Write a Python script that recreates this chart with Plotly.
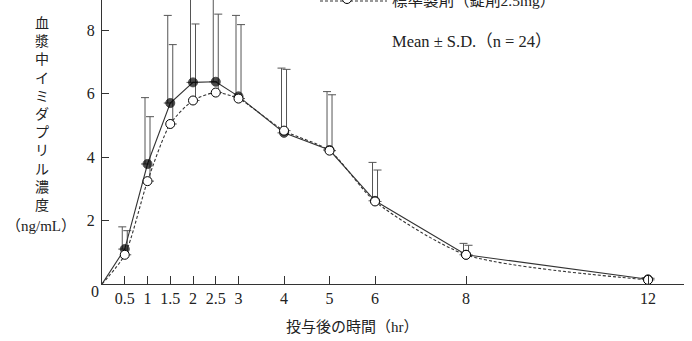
import plotly.graph_objects as go

# ---- data ----
hours = [0, 0.5, 1, 1.5, 2, 2.5, 3, 4, 5, 6, 8, 12]
test_mean = [0, 1.10, 3.78, 5.70, 6.35, 6.37, 5.91, 4.76, 4.22, 2.62, 0.92, 0.15]
test_sd = [0, 0.70, 2.09, 2.76, 3.20, 3.10, 2.55, 2.04, 1.84, 1.21, 0.36, 0.05]
std_mean = [0, 0.92, 3.24, 5.04, 5.78, 6.03, 5.84, 4.83, 4.20, 2.60, 0.92, 0.13]
std_sd = [0, 0.76, 2.03, 2.50, 2.41, 2.47, 2.33, 1.93, 1.76, 0.99, 0.30, 0.05]

x_tickvals = [0.5, 1, 1.5, 2, 2.5, 3, 4, 5, 6, 8, 12]
x_ticktext = ["0.5", "1", "1.5", "2", "2.5", "3", "4", "5", "6", "8", "12"]
y_tickvals = [0, 2, 4, 6, 8]
y_ticktext = ["", "2", "4", "6", "8"]

y_title_chars = list("血漿中イミダプリル濃度")
y_title_unit = "（ng/mL）"
x_title = "投与後の時間（hr）"
legend_label = "標準製剤（錠剤2.5mg）"
note_text = "Mean ± S.D.（n = 24）"

# ---- layout geometry ----
W_IMG, H_IMG = 692, 341
L, R, T, B = 102, 684, 0, 284
PW, PH = R - L, B - T
X_MAX = 12.79
Y_MAX = 8.945
BAR_OFF = 0.055

def px(x):
    return (x - L) / PW

def py(y):
    return (B - y) / PH

SERIF = "Liberation Serif, Noto Sans CJK JP, serif"
CJK = "Noto Sans CJK JP, sans-serif"
INK = "#222222"
LINE = "#333333"
BAR = "#555555"

fig = go.Figure()

# error bars (upper only), drawn first so markers cover their bases
fig.add_trace(go.Scatter(
    x=[h - BAR_OFF for h in hours[1:]], y=test_mean[1:], mode="markers",
    marker=dict(size=1, color="rgba(0,0,0,0)"),
    error_y=dict(type="data", array=test_sd[1:], arrayminus=[0] * (len(hours) - 1),
                 symmetric=False, color=BAR, thickness=1, width=4),
    hoverinfo="skip"))
fig.add_trace(go.Scatter(
    x=[h + BAR_OFF for h in hours[1:]], y=std_mean[1:], mode="markers",
    marker=dict(size=1, color="rgba(0,0,0,0)"),
    error_y=dict(type="data", array=std_sd[1:], arrayminus=[0] * (len(hours) - 1),
                 symmetric=False, color=BAR, thickness=1, width=4),
    hoverinfo="skip"))

# test formulation: solid line, filled circles
fig.add_trace(go.Scatter(
    x=hours, y=test_mean, mode="lines+markers",
    line=dict(color=LINE, width=1.1),
    marker=dict(size=[0] + [9] * (len(hours) - 1), color="black",
                line=dict(color="black", width=1))))

# standard formulation: dotted line, open circles
fig.add_trace(go.Scatter(
    x=hours, y=std_mean, mode="lines+markers",
    line=dict(color=LINE, width=1.1, dash="3px,2px", shape="spline", smoothing=0.7),
    marker=dict(size=[0] + [9] * (len(hours) - 1), color="white", opacity=1,
                line=dict(color="black", width=1))))

annotations = []
# vertical y-axis title (one character per line)
annotations.append(dict(text="<br>".join(y_title_chars), x=px(42), y=py(10), xref="paper", yref="paper",
                        xanchor="center", yanchor="top", showarrow=False,
                        font=dict(family=CJK, size=14, color=INK)))
annotations.append(dict(text=y_title_unit, x=px(41), y=py(226), xref="paper", yref="paper",
                        xanchor="center", yanchor="middle", showarrow=False,
                        font=dict(family=SERIF, size=15, color=INK)))
# y zero label
annotations.append(dict(text="0", x=px(95), y=py(291), xref="paper", yref="paper",
                        xanchor="center", yanchor="middle", showarrow=False,
                        font=dict(family=SERIF, size=16, color=INK)))
# x title
annotations.append(dict(text=x_title, x=px(352), y=py(327), xref="paper", yref="paper",
                        xanchor="center", yanchor="middle", showarrow=False,
                        font=dict(family=SERIF, size=15, color=INK)))
# legend (clipped at top)
annotations.append(dict(text=legend_label, x=px(390), y=py(0), xref="paper", yref="paper",
                        xanchor="left", yanchor="middle", showarrow=False,
                        font=dict(family=SERIF, size=15.5, color=INK)))
annotations.append(dict(text=note_text, x=px(390), y=py(41), xref="paper", yref="paper",
                        xanchor="left", yanchor="middle", showarrow=False,
                        font=dict(family=SERIF, size=16.5, color=INK)))

shapes = [
    dict(type="line", xref="paper", yref="paper", x0=px(320), x1=px(387), y0=py(1), y1=py(1),
         line=dict(color=LINE, width=1.1, dash="3px,2px")),
    dict(type="circle", xref="paper", yref="paper", x0=px(342.5), x1=px(351.5),
         y0=py(3.5), y1=py(-5.5), fillcolor="white", line=dict(color="black", width=1)),
]

fig.update_layout(
    width=W_IMG, height=H_IMG,
    margin=dict(l=L, r=W_IMG - R, t=T, b=H_IMG - B),
    plot_bgcolor="white", paper_bgcolor="white",
    showlegend=False,
    annotations=annotations,
    shapes=shapes,
    xaxis=dict(range=[0, X_MAX], tickvals=x_tickvals, ticktext=x_ticktext,
               ticks="inside", ticklen=8, tickcolor=LINE, tickwidth=1,
               showline=True, linecolor=LINE, linewidth=1,
               showgrid=False, zeroline=False,
               tickfont=dict(family=SERIF, size=16, color=INK)),
    yaxis=dict(range=[0, Y_MAX], tickvals=y_tickvals, ticktext=y_ticktext,
               ticks="inside", ticklen=7, tickcolor=LINE, tickwidth=1,
               showline=True, linecolor=LINE, linewidth=1,
               showgrid=False, zeroline=False, ticklabelstandoff=3,
               tickfont=dict(family=SERIF, size=16, color=INK)),
)

fig.write_html("out.html")
